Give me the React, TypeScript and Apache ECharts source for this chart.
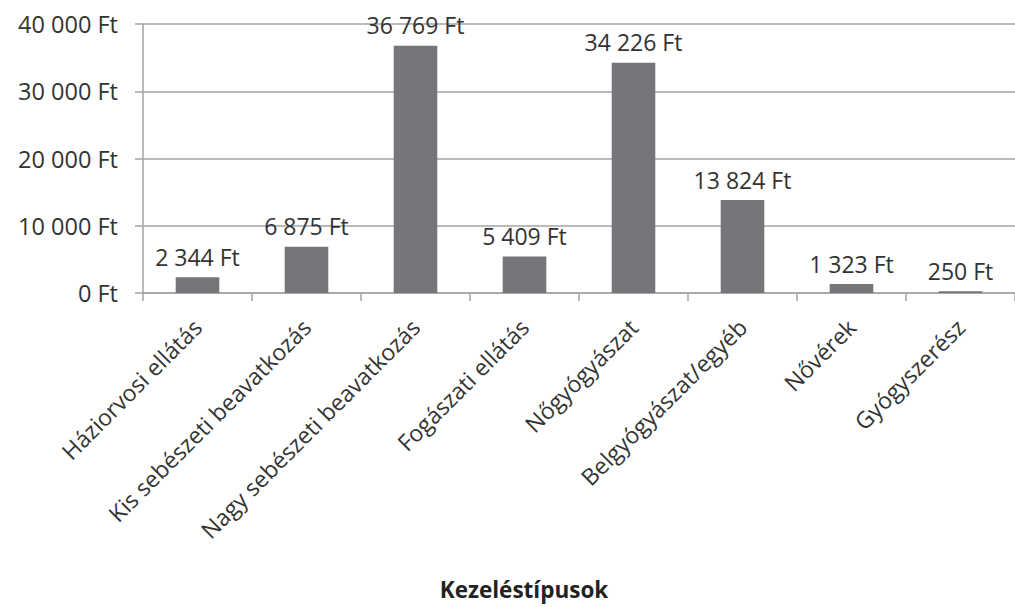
import React, { useEffect, useRef } from "react";
import * as echarts from "echarts";

const categories = [
  "Háziorvosi ellátás",
  "Kis sebészeti beavatkozás",
  "Nagy sebészeti beavatkozás",
  "Fogászati ellátás",
  "Nőgyógyászat",
  "Belgyógyászat/egyéb",
  "Nővérek",
  "Gyógyszerész",
];
const values = [2344, 6875, 36769, 5409, 34226, 13824, 1323, 250];
const axisTitle = "Kezeléstípusok";

const fmt = (v: number) =>
  String(Math.round(v)).replace(/\B(?=(\d{3})+(?!\d))/g, " ") + " Ft";

const FONT = "'Open Sans', sans-serif";
const TEXT = "#333333";
const LINE = "#a3a3a3";

export default function App() {
  const ref = useRef<HTMLDivElement>(null);
  useEffect(() => {
    if (!ref.current) return;
    const chart = echarts.init(ref.current, undefined, { renderer: "svg" });
    chart.setOption({
      animation: false,
      backgroundColor: "#ffffff",
      grid: { left: 143, right: -7, top: 24, bottom: 314, containLabel: false },
      xAxis: {
        type: "category",
        data: categories,
        axisLine: { show: true, lineStyle: { color: LINE, width: 1.5 } },
        axisTick: { show: true, length: 8, lineStyle: { color: LINE, width: 1.5 } },
        axisLabel: {
          rotate: 45,
          margin: 30,
          interval: 0,
          fontFamily: FONT,
          fontSize: 23,
          color: TEXT,
        },
      },
      yAxis: {
        type: "value",
        min: 0,
        max: 40000,
        interval: 10000,
        axisLine: { show: true, lineStyle: { color: LINE, width: 1.5 } },
        axisTick: { show: true, length: 8, lineStyle: { color: LINE, width: 1.5 } },
        splitLine: { show: true, lineStyle: { color: LINE, width: 1.5 } },
        axisLabel: {
          margin: 25,
          fontFamily: FONT,
          fontSize: 23.5,
          color: TEXT,
          formatter: (v: number) => fmt(v),
        },
      },
      series: [
        {
          type: "bar",
          data: values,
          barWidth: "40%",
          itemStyle: { color: "#76767a" },
          label: {
            show: true,
            position: "top",
            distance: 9,
            fontFamily: FONT,
            fontSize: 23,
            color: TEXT,
            formatter: (p: any) => fmt(p.value),
          },
        },
      ],
      graphic: [
        {
          type: "text",
          x: 524,
          y: 589,
          style: {
            text: axisTitle,
            fontFamily: FONT,
            fontSize: 22.5,
            fontWeight: "bold",
            fill: "#222222",
            align: "center",
            verticalAlign: "middle",
          },
        },
      ],
    });
    return () => chart.dispose();
  }, []);
  return (
    <div
      ref={ref}
      style={{ position: "fixed", left: 0, top: 0, width: 1015, height: 607 }}
    />
  );
}
